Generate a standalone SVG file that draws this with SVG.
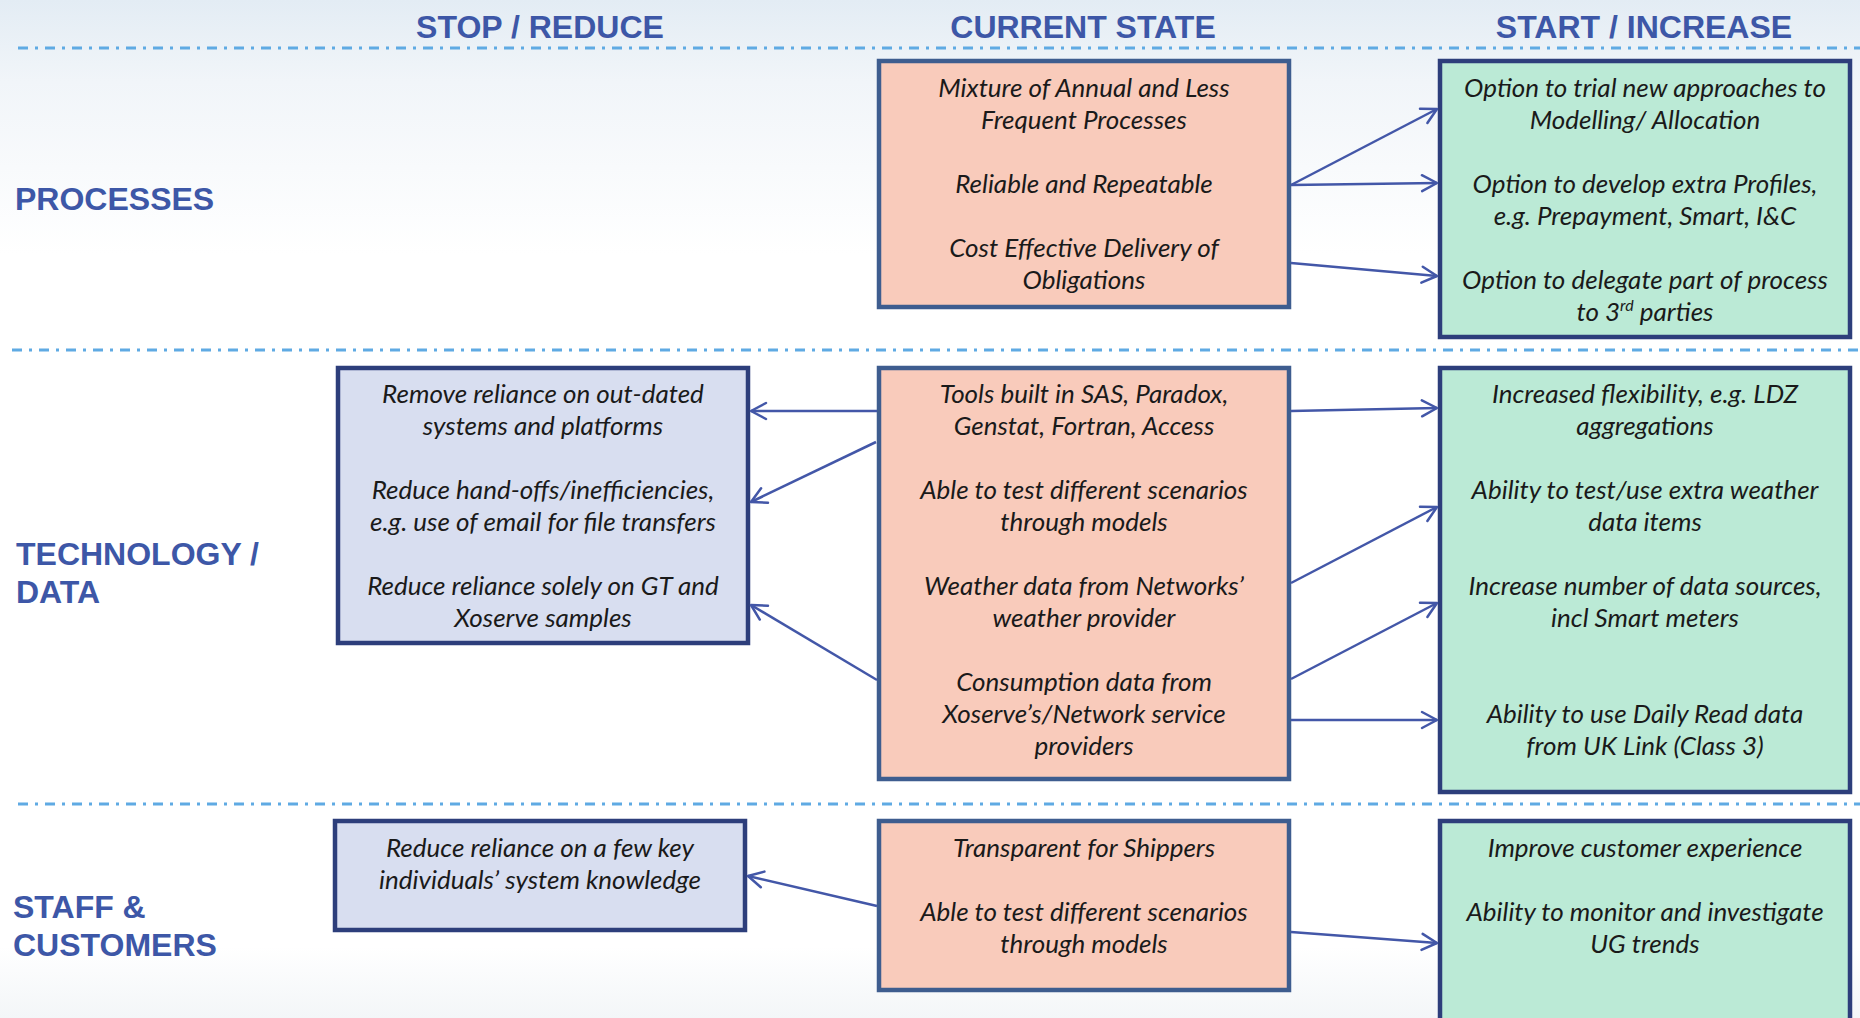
<svg xmlns="http://www.w3.org/2000/svg" width="1860" height="1018" viewBox="0 0 1860 1018">
<defs>
<linearGradient id="bg" x1="0" y1="0" x2="0" y2="1">
<stop offset="0" stop-color="#E3ECF4"/>
<stop offset="0.08" stop-color="#F1F5F9"/>
<stop offset="0.25" stop-color="#FFFFFF"/>
<stop offset="0.93" stop-color="#FFFFFF"/>
<stop offset="1" stop-color="#F3F6F8"/>
</linearGradient>
<marker id="ah" viewBox="0 0 20 20" refX="18" refY="10" markerWidth="20" markerHeight="20" markerUnits="userSpaceOnUse" orient="auto">
<path d="M3,2 L18,10 L3,18" fill="none" stroke="#4357A8" stroke-width="2.5" stroke-linecap="round" stroke-linejoin="round"/>
</marker>
<style>
.hdr{font-family:"Liberation Sans",Arial,sans-serif;font-weight:bold;font-size:32px;fill:#3D57A7;}
.dash{stroke:#5FAAE3;stroke-width:3;stroke-dasharray:10 7 3 7;fill:none;}
.cur{fill:#F9CBBB;stroke:#3E5D8F;stroke-width:4.5;}
.inc{fill:#BBEAD6;stroke:#2D3E7B;stroke-width:4.5;}
.red{fill:#D8DEF0;stroke:#2D3E7B;stroke-width:4.5;}
.t{font-family:Lato,"Open Sans",sans-serif;font-style:italic;font-size:26px;fill:#1A1A1A;text-anchor:middle;}
.con{stroke:#4357A8;stroke-width:2.5;fill:none;marker-end:url(#ah);}
</style>
</defs>
<rect x="0" y="0" width="1860" height="1018" fill="url(#bg)"/>
<g id="headers">
<text class="hdr" x="540" y="38" text-anchor="middle">STOP / REDUCE</text>
<text class="hdr" x="1083" y="38" text-anchor="middle">CURRENT STATE</text>
<text class="hdr" x="1644" y="38" text-anchor="middle">START / INCREASE</text>
</g>
<g id="separators">
<line class="dash" x1="18" y1="48" x2="1860" y2="48"/>
<line class="dash" x1="12" y1="350" x2="1860" y2="350"/>
<line class="dash" x1="18" y1="804" x2="1860" y2="804"/>
</g>
<g id="row-labels">
<text class="hdr" x="15" y="210">PROCESSES</text>
<text class="hdr" x="16" y="565">TECHNOLOGY /</text>
<text class="hdr" x="16" y="603">DATA</text>
<text class="hdr" x="13" y="918">STAFF &amp;</text>
<text class="hdr" x="13" y="956">CUSTOMERS</text>
</g>
<g id="proc-current">
<rect class="cur" x="879" y="61" width="410" height="246"/>
<text class="t" x="1084" y="97">Mixture of Annual and Less</text>
<text class="t" x="1084" y="129">Frequent Processes</text>
<text class="t" x="1084" y="193">Reliable and Repeatable</text>
<text class="t" x="1084" y="257">Cost Effective Delivery of</text>
<text class="t" x="1084" y="289">Obligations</text>
</g>
<g id="proc-start">
<rect class="inc" x="1440" y="61" width="410" height="276"/>
<text class="t" x="1645" y="97">Option to trial new approaches to</text>
<text class="t" x="1645" y="129">Modelling/ Allocation</text>
<text class="t" x="1645" y="193">Option to develop extra Profiles,</text>
<text class="t" x="1645" y="225">e.g. Prepayment, Smart, I&amp;C</text>
<text class="t" x="1645" y="289">Option to delegate part of process</text>
<text class="t" x="1645" y="321">to 3<tspan font-size="16" dy="-10">rd</tspan><tspan dy="10"> parties</tspan></text>
</g>
<g id="tech-stop">
<rect class="red" x="338" y="368" width="410" height="275"/>
<text class="t" x="543" y="403">Remove reliance on out-dated</text>
<text class="t" x="543" y="435">systems and platforms</text>
<text class="t" x="543" y="499">Reduce hand-offs/inefficiencies,</text>
<text class="t" x="543" y="531">e.g. use of email for file transfers</text>
<text class="t" x="543" y="595">Reduce reliance solely on GT and</text>
<text class="t" x="543" y="627">Xoserve samples</text>
</g>
<g id="tech-current">
<rect class="cur" x="879" y="368" width="410" height="411"/>
<text class="t" x="1084" y="403">Tools built in SAS, Paradox,</text>
<text class="t" x="1084" y="435">Genstat, Fortran, Access</text>
<text class="t" x="1084" y="499">Able to test different scenarios</text>
<text class="t" x="1084" y="531">through models</text>
<text class="t" x="1084" y="595">Weather data from Networks’</text>
<text class="t" x="1084" y="627">weather provider</text>
<text class="t" x="1084" y="691">Consumption data from</text>
<text class="t" x="1084" y="723">Xoserve’s/Network service</text>
<text class="t" x="1084" y="755">providers</text>
</g>
<g id="tech-start">
<rect class="inc" x="1440" y="368" width="410" height="424"/>
<text class="t" x="1645" y="403">Increased flexibility, e.g. LDZ</text>
<text class="t" x="1645" y="435">aggregations</text>
<text class="t" x="1645" y="499">Ability to test/use extra weather</text>
<text class="t" x="1645" y="531">data items</text>
<text class="t" x="1645" y="595">Increase number of data sources,</text>
<text class="t" x="1645" y="627">incl Smart meters</text>
<text class="t" x="1645" y="723">Ability to use Daily Read data</text>
<text class="t" x="1645" y="755">from UK Link (Class 3)</text>
</g>
<g id="staff-stop">
<rect class="red" x="335" y="821" width="410" height="109"/>
<text class="t" x="540" y="857">Reduce reliance on a few key</text>
<text class="t" x="540" y="889">individuals’ system knowledge</text>
</g>
<g id="staff-current">
<rect class="cur" x="879" y="821" width="410" height="169"/>
<text class="t" x="1084" y="857">Transparent for Shippers</text>
<text class="t" x="1084" y="921">Able to test different scenarios</text>
<text class="t" x="1084" y="953">through models</text>
</g>
<g id="staff-start">
<rect class="inc" x="1440" y="821" width="410" height="215"/>
<text class="t" x="1645" y="857">Improve customer experience</text>
<text class="t" x="1645" y="921">Ability to monitor and investigate</text>
<text class="t" x="1645" y="953">UG trends</text>
</g>
<g id="connectors">
<line class="con" x1="1291" y1="185" x2="1437" y2="109"/>
<line class="con" x1="1291" y1="185" x2="1437" y2="183"/>
<line class="con" x1="1291" y1="263" x2="1437" y2="276"/>
<line class="con" x1="877" y1="411" x2="751" y2="411"/>
<line class="con" x1="876" y1="442" x2="751" y2="502"/>
<line class="con" x1="877" y1="680" x2="751" y2="605"/>
<line class="con" x1="1291" y1="411" x2="1437" y2="408"/>
<line class="con" x1="1291" y1="583" x2="1437" y2="507"/>
<line class="con" x1="1291" y1="679" x2="1437" y2="603"/>
<line class="con" x1="1291" y1="720" x2="1437" y2="720"/>
<line class="con" x1="877" y1="906" x2="748" y2="876"/>
<line class="con" x1="1291" y1="932" x2="1437" y2="943"/>
</g>
</svg>
